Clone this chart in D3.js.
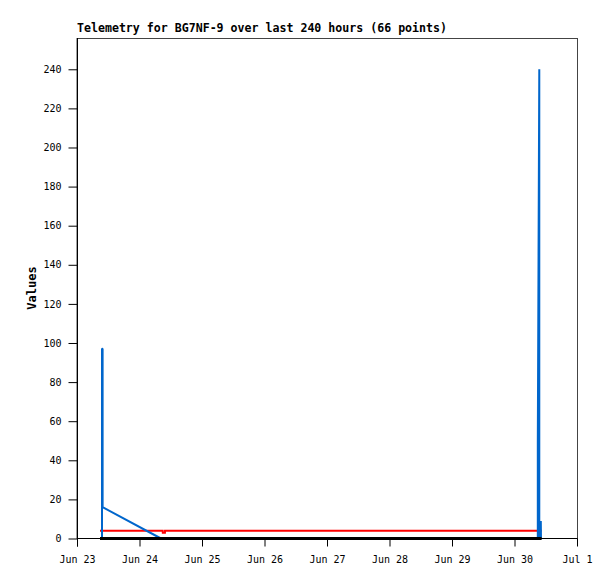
<!DOCTYPE html>
<html>
<head>
<meta charset="utf-8">
<script src="https://cdn.jsdelivr.net/npm/d3@7"></script>
<style>
  body { margin: 0; background: #fff; }
  svg { display: block; }
</style>
</head>
<body>
<svg id="chart" width="615" height="579"></svg>
<script>
// ---- data ----
const titleText = "Telemetry for BG7NF-9 over last 240 hours (66 points)";
const yLabel = "Values";
const xDomain = ["2025-06-23T00:00", "2025-07-01T00:00"];
const yDomain = [0, 256];
const yTicks = [0, 20, 40, 60, 80, 100, 120, 140, 160, 180, 200, 220, 240];

const blueSeries = [
  ["2025-06-23T08:50", 0],
  ["2025-06-23T09:36", 0],
  ["2025-06-23T09:36", 97],
  ["2025-06-23T09:50", 97],
  ["2025-06-23T09:50", 16],
  ["2025-06-24T08:15", 0],
  ["2025-06-30T08:57", 0],
  ["2025-06-30T08:57", 49],
  ["2025-06-30T09:31", 240],
  ["2025-06-30T09:31", 0],
  ["2025-06-30T10:06", 9],
  ["2025-06-30T10:10", 0],
  ["2025-06-30T10:24", 0]
];
const redSeries = [
  ["2025-06-23T08:50", 4],
  ["2025-06-24T08:55", 4],
  ["2025-06-24T08:57", 3],
  ["2025-06-24T09:46", 3],
  ["2025-06-24T09:48", 4],
  ["2025-06-30T10:24", 4]
];
const blackSeries = [
  ["2025-06-23T08:50", 0],
  ["2025-06-30T10:24", 0]
];

// ---- layout ----
const svg = d3.select("#chart");
const L = 77, R = 577, T = 38, B = 538.5;
const parse = d3.utcParse("%Y-%m-%dT%H:%M");
const x = d3.scaleUtc().domain(xDomain.map(parse)).range([L, R]);
const y = d3.scaleLinear().domain(yDomain).range([B, T]);
const mono = "'DejaVu Sans Mono', 'Liberation Mono', monospace";

svg.append("rect").attr("width", 615).attr("height", 579).attr("fill", "#fff");

// frame
svg.append("rect")
  .attr("x", L).attr("y", T + 0.5).attr("width", R - L + 0.5).attr("height", B - T - 0.5)
  .attr("fill", "none").attr("stroke", "#444").attr("stroke-width", 1);

const line = d3.line().x(d => x(parse(d[0]))).y(d => y(d[1]));

svg.append("path").datum(redSeries).attr("d", line)
  .attr("fill", "none").attr("stroke", "#ff0000").attr("stroke-width", 2);
svg.append("path").datum(blueSeries).attr("d", line)
  .attr("fill", "none").attr("stroke", "#0066cc").attr("stroke-width", 2)
  .attr("stroke-linejoin", "bevel");
svg.append("path").datum(blackSeries).attr("d", line)
  .attr("fill", "none").attr("stroke", "#000").attr("stroke-width", 3);

// axes
const yAxis = d3.axisLeft(y).tickValues(yTicks).tickSize(9).tickPadding(7).tickSizeOuter(0);
const gy = svg.append("g").attr("transform", `translate(${L + 0.5},0)`).call(yAxis);
gy.select(".domain").remove();

const xAxis = d3.axisBottom(x).ticks(d3.utcDay.every(1)).tickFormat(d3.utcFormat("%b %-d"))
  .tickSize(8).tickPadding(9).tickSizeOuter(0);
const gx = svg.append("g").attr("transform", `translate(0,${B})`).call(xAxis);
gx.select(".domain").remove();

[gx, gy].forEach(g => {
  g.attr("font-family", mono).attr("font-size", 10);
  g.selectAll("text").attr("fill", "#000");
  g.selectAll("line").attr("stroke", "#000");
});

// axis lines
svg.append("line").attr("x1", L + 0.5).attr("x2", L + 0.5).attr("y1", T).attr("y2", B + 8)
  .attr("stroke", "#000");
svg.append("line").attr("x1", L).attr("x2", R + 0.5).attr("y1", B).attr("y2", B)
  .attr("stroke", "#000");

// title
svg.append("text").attr("x", L).attr("y", 32)
  .attr("font-family", mono).attr("font-weight", "bold").attr("font-size", 12.5)
  .attr("textLength", 370).attr("lengthAdjust", "spacingAndGlyphs")
  .text(titleText);

// y label
svg.append("text").attr("transform", "translate(36,288) rotate(-90)")
  .attr("text-anchor", "middle")
  .attr("font-family", mono).attr("font-weight", "bold").attr("font-size", 12)
  .text(yLabel);
</script>
</body>
</html>
